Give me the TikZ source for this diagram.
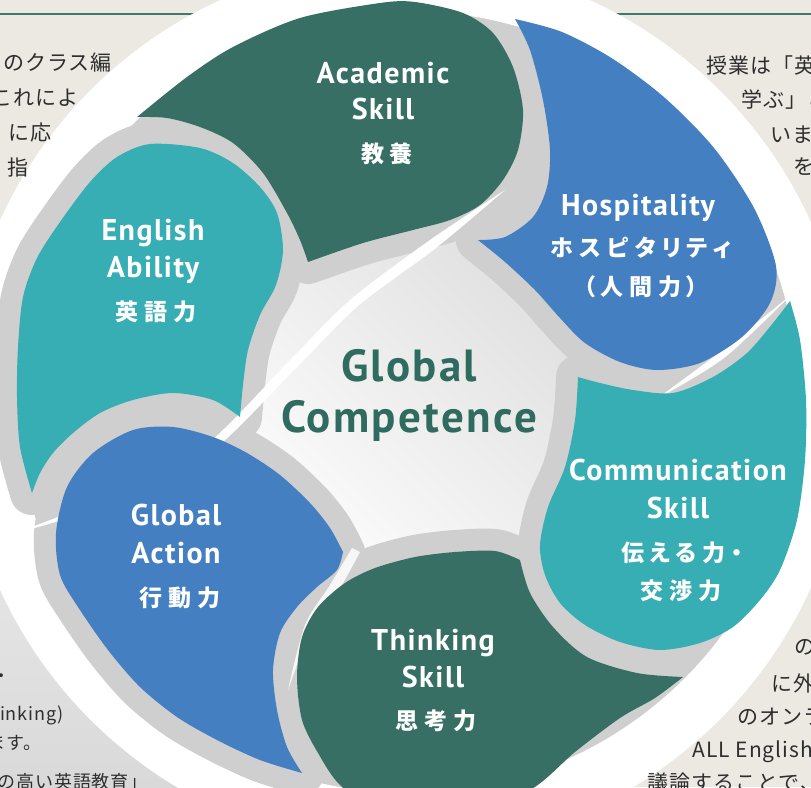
\documentclass[tikz,border=0pt]{standalone}
\usepackage{fontspec}
\setmainfont{PT Sans}
\newfontfamily\enlab{PT Sans}[LetterSpace=5]
\newfontfamily\ttlfam{PT Sans}[LetterSpace=5]
\newfontfamily\jplab{Noto Sans CJK JP}[LetterSpace=25,RawFeature=+palt]
\newfontfamily\jpbody{Noto Sans CJK JP}[LetterSpace=5]
\definecolor{bgbeige}{HTML}{ECE8E2}
\definecolor{dkgreen}{HTML}{376F64}
\definecolor{tealc}{HTML}{36AEB4}
\definecolor{bluec}{HTML}{437FC1}
\definecolor{halogrey}{HTML}{CFCFCF}
\definecolor{titlegreen}{HTML}{2F6B5E}
\definecolor{linegreen}{HTML}{3C7A6B}
\definecolor{bodygray}{HTML}{2E2E2E}
\tikzset{
  enl/.style={anchor=base, text=white, inner sep=0pt, font=\enlab\bfseries\fontsize{30}{30}\selectfont},
  jpl/.style={anchor=base, text=white, inner sep=0pt, font=\jplab\bfseries\fontsize{23}{23}\selectfont},
  ttl/.style={anchor=base, text=titlegreen, inner sep=0pt, font=\ttlfam\bfseries\fontsize{45}{45}\selectfont},
  bodyt/.style={text=bodygray, inner sep=0pt, font=\jpbody\fontsize{21}{21}\selectfont},
  bodys/.style={text=bodygray, inner sep=0pt, font=\jpbody\fontsize{18}{18}\selectfont},
  halo/.style={draw=halogrey, line width=44pt, line join=round},
}
\def\pAca{plot[smooth] coordinates {(137,117) (187,77) (233,47) (300,18) (380,3) (415,2) (463,13) (493,33) (513,67) (523,110) (518,150) (503,180) (480,205) (450,220) (413,230) (363,243) (308,262)} -- plot[smooth] coordinates {(308,262) (300,240) (287,213) (263,173) (233,143) (200,127) (167,118) (137,117)} -- cycle}
\def\pHos{plot[smooth] coordinates {(515,19) (562,32) (613,59) (665,98) (714,148) (754,208) (776,266) (770,303) (742,337) (700,363) (657,370) (620,362) (585,343) (560,318) (535,290) (505,262) (478,240)} -- plot[smooth] coordinates {(478,240) (505,237) (533,217) (547,187) (550,150) (543,100) (530,50) (515,19)} -- cycle}
\def\pCom{plot[smooth] coordinates {(790,301) (800,340) (806,400) (805,460) (797,520) (780,570) (760,600) (733,627) (700,643) (660,650) (620,642) (585,625) (560,603) (545,575) (540,545) (548,507) (565,467) (575,420) (578,377)} -- plot[smooth] coordinates {(578,377) (600,383) (633,390) (673,393) (713,377) (747,353) (773,323) (790,301)} -- cycle}
\def\pThk{plot[smooth] coordinates {(683,677) (637,673) (587,657) (553,627) (530,593) (520,560)} -- plot[smooth] coordinates {(520,560) (495,551) (455,552) (415,557) (375,568) (345,583) (318,607) (302,637) (297,677) (302,720) (318,753) (340,785) (380,812) (460,815) (530,790) (575,752) (620,718) (655,698) (683,677)} -- cycle}
\def\pGA{plot[smooth] coordinates {(343,552) (330,528) (310,503) (280,475) (247,453) (213,437) (173,427) (133,430) (93,453) (67,487) (56,533) (60,575) (78,607) (108,650) (140,687) (177,717) (217,740) (260,760) (302,773)} -- plot[smooth] coordinates {(302,773) (287,747) (277,710) (273,670) (280,633) (297,607) (317,587) (337,570) (343,552)} -- cycle}
\def\pEng{plot[smooth] coordinates {(32,493) (20,447) (17,397) (18,347) (23,297) (37,258) (60,222) (90,182) (117,157) (150,144) (200,148) (233,163) (260,187) (277,213) (283,250) (276,285) (260,315) (248,350) (243,385) (240,417)} -- plot[smooth] coordinates {(240,417) (213,400) (173,393) (133,400) (100,413) (73,433) (53,453) (40,473) (32,493)} -- cycle}
\begin{document}
\begin{tikzpicture}[x=1pt,y=-1pt]
\useasboundingbox (0,0) rectangle (811,787);
\fill[bgbeige] (0,0) rectangle (811,787);
% top rules
\draw[linegreen, line width=1.5pt] (0,14) -- (811,14);
% lower-left shaded swoosh
\shade[top color=black!8, bottom color=black!15] (-5,480) -- (-5,792) -- (340,792) -- cycle;
% outer white disk
\fill[white] (405,405) circle[radius=440];
% grey zone
\fill[halogrey] (408,402) circle[radius=390];
% central light area
\shade[shading=axis, top color=black!13, bottom color=white, shading angle=-45] (408,402) circle[radius=205];
% halos hugging the shapes
\draw[halo] \pAca;
\draw[halo] \pHos;
\draw[halo] \pCom;
\draw[halo] \pThk;
% clean outer white ring
\fill[white, even odd rule] (405,405) circle[radius=445] (408,402) circle[radius=391];
% outer halos on the left side
\draw[halo] \pEng;
\draw[halo] \pGA;
% white streaks
\fill[white] plot[smooth] coordinates {(505,190) (430,240) (350,300) (290,360) (200,450) (100,500) (10,535)} -- plot[smooth] coordinates {(10,535) (104,506) (206,456) (298,366) (358,306) (436,248) (505,190)} -- cycle;
\fill[white] plot[smooth] coordinates {(655,400) (720,352) (792,294)} -- plot[smooth] coordinates {(792,294) (724,358) (655,400)} -- cycle;
\fill[white, opacity=0.85] plot[smooth] coordinates {(352,548) (330,585) (305,625) (288,690)} -- plot[smooth] coordinates {(288,690) (312,628) (340,588) (360,552)} -- cycle;
% shapes
\fill[tealc] \pEng;
\fill[dkgreen] \pAca;
\fill[bluec] \pHos;
\fill[tealc] \pCom;
\fill[dkgreen] \pThk;
\fill[bluec] \pGA;
% labels
\node[enl] (acaA) at (383,83) {Academic};
\node[enl] (acaB) at (383,119) {Skill};
\node[jpl] (acaC) at (387,162) {教養};
\node[enl] (hosA) at (638,215) {Hospitality};
\node[jpl] (hosB) at (641,256) {ホスピタリティ};
\node[jpl] (hosC) at (641,295) {（人間力）};
\node[enl] (engA) at (153,240) {English};
\node[enl] (engB) at (153,277) {Ability};
\node[jpl] (engC) at (156,320) {英語力};
\node[enl] (comA) at (678,480) {Communication};
\node[enl] (comB) at (678,518) {Skill};
\node[jpl] (comC) at (682,561) {伝える力・};
\node[jpl] (comD) at (681,599) {交渉力};
\node[enl] (gaA) at (176,525) {Global};
\node[enl] (gaB) at (176,563) {Action};
\node[jpl] (gaC) at (180,606) {行動力};
\node[enl] (thkA) at (433,650) {Thinking};
\node[enl] (thkB) at (433,687) {Skill};
\node[jpl] (thkC) at (436,729) {思考力};
\node[ttl] (gcA) at (409,381) {Global};
\node[ttl] (gcB) at (409,432) {Competence};
% edge text fragments
\node[bodyt, anchor=east] (t1) at (112,63) {のクラス編};
\node[bodyt, anchor=east] (t2) at (79,98) {これによ};
\node[bodyt, anchor=east] (t3) at (52,133) {に応};
\node[bodyt, anchor=east] (t4) at (29,168) {指};
\node[bodyt, anchor=west] (t5) at (706,65) {授業は「英};
\node[bodyt, anchor=west] (t6) at (741,100) {学ぶ」こ};
\node[bodyt, anchor=west] (t7) at (770,135) {いま};
\node[bodyt, anchor=west] (t8) at (793,167) {を};
\node[bodys] (t9) at (2,678) {・};
\node[bodys, anchor=east] (t10) at (64,715) {hinking)};
\node[bodys, anchor=east] (t11) at (42,743) {ます。};
\node[bodys, anchor=east] (t12) at (148,782) {の高い英語教育」};
\node[bodyt, anchor=west] (t13) at (794,647) {の};
\node[bodyt, anchor=west] (t14) at (771,683) {に外};
\node[bodyt, anchor=west] (t15) at (737,717) {のオンラ};
\node[bodyt, anchor=west] (t16) at (692,752) {ALL English};
\node[bodyt, anchor=west] (t17) at (647,783) {議論することで、よ};
\end{tikzpicture}
\end{document}
